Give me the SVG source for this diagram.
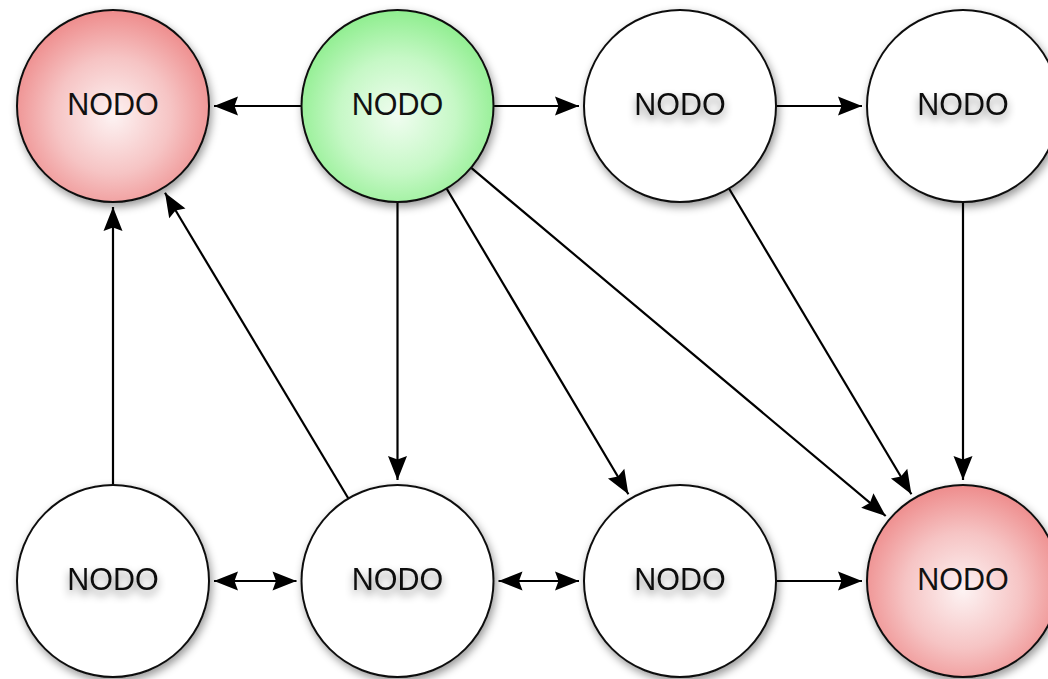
<svg xmlns="http://www.w3.org/2000/svg" width="1048" height="679" viewBox="0 0 1048 679">
<defs>
<radialGradient id="gRed" cx="50%" cy="55%" r="55%">
<stop offset="0" stop-color="#fdf3f3"/>
<stop offset="0.55" stop-color="#f6c4c4"/>
<stop offset="1" stop-color="#ee8c8c"/>
</radialGradient>
<radialGradient id="gGreen" cx="50%" cy="55%" r="55%">
<stop offset="0" stop-color="#f0fdf0"/>
<stop offset="0.55" stop-color="#c6f8c6"/>
<stop offset="1" stop-color="#8fee8f"/>
</radialGradient>
<filter id="shadow" x="-30%" y="-30%" width="160%" height="160%">
<feDropShadow dx="2" dy="4" stdDeviation="4.5" flood-color="#000" flood-opacity="0.4"/>
</filter>
<filter id="tshadow" x="-30%" y="-60%" width="160%" height="220%">
<feDropShadow dx="0" dy="5" stdDeviation="4" flood-color="#000" flood-opacity="0.45"/>
</filter>
<marker id="ah" markerUnits="userSpaceOnUse" markerWidth="30" markerHeight="24" viewBox="-26 -12 30 24" refX="0" refY="0" orient="auto-start-reverse">
<path d="M0,0 L-24,-9.5 L-20.5,0 L-24,9.5 Z" fill="#000"/>
</marker>
<style>
.node circle{stroke:#111;stroke-width:2}
.w{fill:#fff}
.r{fill:url(#gRed)}
.g{fill:url(#gGreen)}
.lbl{font-family:"Liberation Sans",Arial,sans-serif;font-size:30.5px;fill:#111;text-anchor:middle}
.ts{filter:url(#tshadow)}
#connectors line{stroke:#000;stroke-width:2.2;fill:none}
.end{marker-end:url(#ah)}
.both{marker-start:url(#ah);marker-end:url(#ah)}
</style>
</defs>
<rect width="1048" height="679" fill="#fff"/>
<g id="connectors">
<line class="end" x1="301.5" y1="106" x2="214" y2="106"/>
<line class="end" x1="493.5" y1="106" x2="579" y2="106"/>
<line class="end" x1="776" y1="106" x2="862" y2="106"/>
<line class="end" x1="397.5" y1="202" x2="397.5" y2="480"/>
<line class="end" x1="963" y1="202" x2="963" y2="480"/>
<line class="end" x1="113" y1="485" x2="113" y2="207"/>
<line class="end" x1="446.6" y1="188.5" x2="628.4" y2="494.2"/>
<line class="end" x1="471" y1="167.7" x2="885.7" y2="516"/>
<line class="end" x1="729" y1="188.5" x2="911.4" y2="494.2"/>
<line class="end" x1="348.4" y1="498.5" x2="165" y2="192.8"/>
<line class="both" x1="214" y1="581" x2="296.5" y2="581"/>
<line class="both" x1="498.5" y1="581" x2="579" y2="581"/>
<line class="end" x1="776" y1="581" x2="862" y2="581"/>
</g>
<g id="n1" class="node"><circle class="r" cx="113" cy="106" r="96" filter="url(#shadow)"/><text class="lbl" x="113" y="115">NODO</text></g>
<g id="n2" class="node"><circle class="g" cx="397.5" cy="106" r="96" filter="url(#shadow)"/><text class="lbl" x="397.5" y="115">NODO</text></g>
<g id="n3" class="node"><circle class="w" cx="680" cy="106" r="96" filter="url(#shadow)"/><text class="lbl ts" x="680" y="115">NODO</text></g>
<g id="n4" class="node"><circle class="w" cx="963" cy="106" r="96" filter="url(#shadow)"/><text class="lbl ts" x="963" y="115">NODO</text></g>
<g id="n5" class="node"><circle class="w" cx="113" cy="581" r="96" filter="url(#shadow)"/><text class="lbl ts" x="113" y="590">NODO</text></g>
<g id="n6" class="node"><circle class="w" cx="397.5" cy="581" r="96" filter="url(#shadow)"/><text class="lbl ts" x="397.5" y="590">NODO</text></g>
<g id="n7" class="node"><circle class="w" cx="680" cy="581" r="96" filter="url(#shadow)"/><text class="lbl ts" x="680" y="590">NODO</text></g>
<g id="n8" class="node"><circle class="r" cx="963" cy="581" r="96" filter="url(#shadow)"/><text class="lbl" x="963" y="590">NODO</text></g>
</svg>
